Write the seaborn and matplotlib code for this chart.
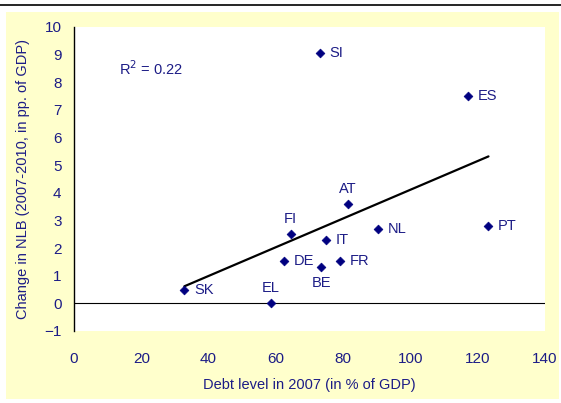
import matplotlib
matplotlib.use("Agg")
import matplotlib.pyplot as plt
from matplotlib.patches import Rectangle
from matplotlib.lines import Line2D
import seaborn as sns
import pandas as pd

countries = ["SI", "ES", "AT", "FI", "IT", "NL", "PT", "DE", "FR", "BE", "SK", "EL"]
debt_2007 = [73.1, 117.0, 81.5, 64.4, 74.8, 90.5, 123.2, 62.3, 79.0, 73.5, 32.8, 58.5]
nlb_change = [9.05, 7.5, 3.6, 2.5, 2.3, 2.7, 2.8, 1.55, 1.55, 1.3, 0.48, 0.0]
label_pos = ["right", "right", "above", "above", "right", "right", "right", "right", "right", "below", "right", "above"]

x_ticks = [0, 20, 40, 60, 80, 100, 120, 140]
y_ticks = [-1, 0, 1, 2, 3, 4, 5, 6, 7, 8, 9, 10]

df = pd.DataFrame({"country": countries, "debt": debt_2007, "nlb": nlb_change})

sns.set_style("white")
plt.rcParams["font.family"] = ["Liberation Sans", "DejaVu Sans"]

NAVY = "#000080"
TXT = "#1c1c86"
W, H = 561, 403
fig = plt.figure(figsize=(W / 100, H / 100), dpi=100)
fig.patch.set_facecolor("white")

# yellow panel background
fig.patches.append(Rectangle((6 / W, (H - 399) / H), 553 / W, 387 / H,
                             transform=fig.transFigure, facecolor="#FFFFCC",
                             edgecolor="none", zorder=-10))
# top rule
fig.lines.append(Line2D([0, 1], [(H - 5) / H, (H - 5) / H], transform=fig.transFigure,
                        color="black", lw=1.2))

ax = fig.add_axes([74 / W, (H - 331) / H, 471 / W, 304 / H])
ax.set_facecolor("white")

sns.regplot(data=df, x="debt", y="nlb", scatter=False, ci=None, ax=ax,
            line_kws={"color": "black", "lw": 1.6, "zorder": 2})
sns.scatterplot(data=df, x="debt", y="nlb", marker="D", s=20, color=NAVY,
                edgecolor=NAVY, linewidth=0.5, ax=ax, zorder=3)

ax.axhline(0, color="black", lw=0.8, zorder=1)

offsets = {"right": ((7, 0), "left", "center"),
           "above": ((0, 11), "center", "center"),
           "below": ((0, -11), "center", "center")}
for c, xv, yv, p in zip(countries, debt_2007, nlb_change, label_pos):
    off, ha, va = offsets[p]
    ax.annotate(c, (xv, yv), xytext=off, textcoords="offset points",
                ha=ha, va=va, fontsize=10.5, color=TXT)

ax.text(13.4, 8.48, "R$^2$ = 0.22", fontsize=10.5, color=TXT, ha="left", va="center")

ax.set_xlim(0, 140)
ax.set_ylim(-1, 10)
ax.set_xticks(x_ticks)
ax.set_yticks(y_ticks)
ax.tick_params(axis="x", length=0, pad=15, labelsize=11, labelcolor=TXT)
ax.tick_params(axis="y", length=0, pad=9, labelsize=11, labelcolor=TXT)

for s in ["top", "right", "bottom"]:
    ax.spines[s].set_visible(False)
ax.spines["left"].set_color("black")
ax.spines["left"].set_linewidth(1.0)

ax.set_xlabel("Debt level in 2007 (in % of GDP)", fontsize=10.5, color=TXT, labelpad=9)
ax.set_ylabel("Change in NLB (2007-2010, in pp. of GDP)", fontsize=10.5, color=TXT, labelpad=10)

fig.savefig("out.png", dpi=100)
